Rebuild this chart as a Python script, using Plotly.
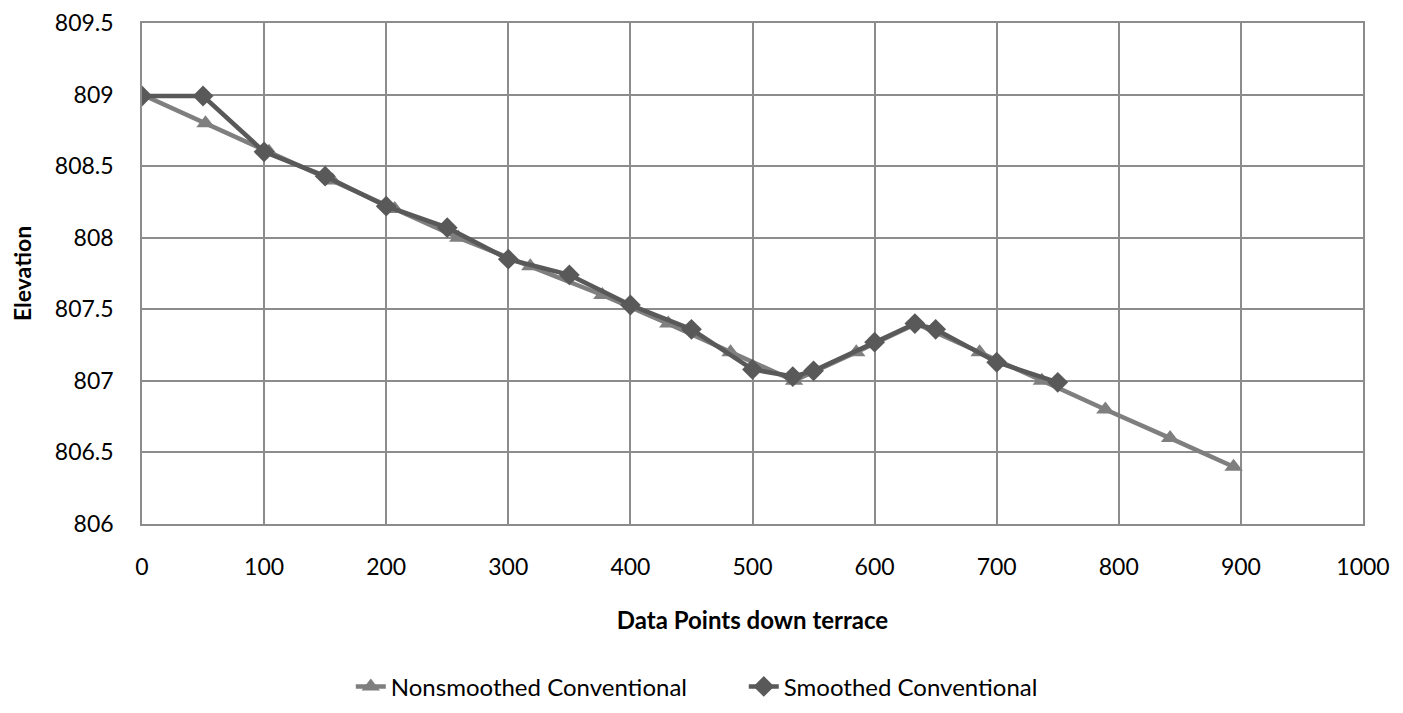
import plotly.graph_objects as go

# Nonsmoothed Conventional (triangles)
ns_x = [0, 52, 104, 156, 207, 259, 318, 377, 431, 482, 534, 585, 634, 686, 737, 789, 842, 894]
ns_y = [809.0, 808.8, 808.6, 808.4, 808.2, 808.0, 807.8, 807.6, 807.4, 807.2, 807.0,
        807.2, 807.4, 807.2, 807.0, 806.8, 806.6, 806.4]

# Smoothed Conventional (diamonds)
sm_x = [0, 50, 100, 150, 200, 250, 300, 350, 400, 450, 500, 533, 550, 600, 633, 650, 700, 750]
sm_y = [808.99, 808.99, 808.60, 808.43, 808.22, 808.07, 807.85, 807.74, 807.53, 807.36,
        807.08, 807.03, 807.07, 807.27, 807.40, 807.36, 807.13, 806.99]

x_ticks = [0, 100, 200, 300, 400, 500, 600, 700, 800, 900, 1000]
y_ticks = [806, 806.5, 807, 807.5, 808, 808.5, 809, 809.5]

FONT = "Lato, 'Open Sans', sans-serif"
GRID = "#8c8c8c"

fig = go.Figure()
fig.add_trace(go.Scatter(
    x=ns_x, y=ns_y, mode="lines+markers", name="Nonsmoothed Conventional",
    line=dict(color="#7f7f7f", width=4.5),
    marker=dict(symbol="triangle-up", size=16, color="#7f7f7f"),
))
fig.add_trace(go.Scatter(
    x=sm_x, y=sm_y, mode="lines+markers", name="Smoothed Conventional",
    line=dict(color="#595959", width=4.5),
    marker=dict(symbol="diamond", size=16, color="#595959"),
))

fig.update_layout(
    width=1403, height=713,
    margin=dict(l=134, r=48, t=15, b=194),
    paper_bgcolor="white", plot_bgcolor="white",
    font=dict(family=FONT, size=23, color="#000000"),
    showlegend=True,
    legend=dict(orientation="h", x=0.171, xanchor="left", y=-0.325, yanchor="middle",
                font=dict(size=24), traceorder="normal",
                entrywidth=348, entrywidthmode="pixels"),
    xaxis=dict(
        range=[0, 1000], tickvals=x_ticks, ticktext=[str(v) for v in x_ticks],
        showgrid=True, gridcolor=GRID, gridwidth=1.5,
        showline=True, linecolor=GRID, linewidth=1.5, mirror=True,
        zeroline=False, ticks="", ticklabelstandoff=22, automargin=False,
        ticklabeloverflow="allow",
        title=dict(text="<b>Data Points down terrace</b>", standoff=33,
                   font=dict(size=24)),
    ),
    yaxis=dict(
        range=[806, 809.5], tickvals=y_ticks, ticktext=[f"{v:g}" for v in y_ticks],
        showgrid=True, gridcolor=GRID, gridwidth=1.5,
        showline=True, linecolor=GRID, linewidth=1.5, mirror=True,
        zeroline=False, ticks="", ticklabelstandoff=22, automargin=False,
        ticklabeloverflow="allow",
        title=dict(text="<b>Elevation</b>", standoff=19, font=dict(size=23)),
    ),
)

fig.write_html("out.html")
